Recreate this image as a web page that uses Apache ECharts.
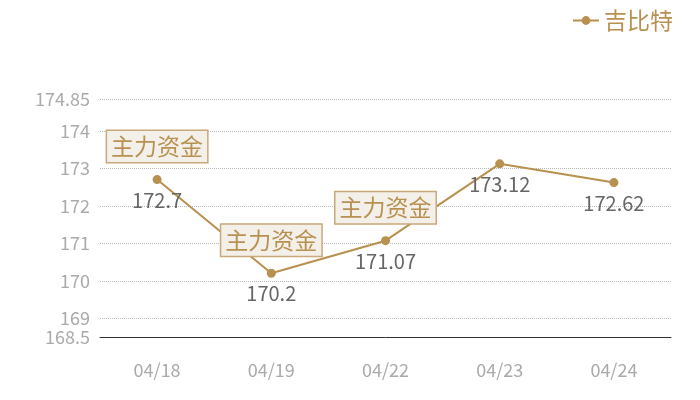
<!DOCTYPE html>
<html>
<head>
<meta charset="utf-8">
<script src="https://cdn.jsdelivr.net/npm/echarts@6/dist/echarts.min.js"></script>
<style>
    html, body { margin: 0; padding: 0; background: #fff; }
    #chart { width: 700px; height: 400px; }
</style>
</head>
<body>
<div id="chart"></div>
<script>
const categories = ['04/18', '04/19', '04/22', '04/23', '04/24'];
const prices = [172.7, 170.2, 171.07, 173.12, 172.62];
const flagIndexes = [0, 1, 2];
const flagText = '主力资金';
const yMin = 168.5;
const yMax = 174.85;

const gold = '#b8904f';
const font = '"Noto Sans CJK SC", "Noto Sans", sans-serif';

const chart = echarts.init(document.getElementById('chart'));
chart.setOption({
    textStyle: { fontFamily: font },
    legend: {
        right: 22,
        top: 4,
        itemWidth: 26,
        itemHeight: 11,
        itemGap: 6,
        textStyle: { color: gold, fontSize: 23, fontFamily: font },
        data: ['吉比特']
    },
    grid: { left: 100, right: 29, top: 99, bottom: 63 },
    xAxis: {
        type: 'category',
        data: categories,
        axisLine: { lineStyle: { color: '#333', width: 1 } },
        axisTick: { show: false },
        axisLabel: { color: '#aaa', fontSize: 18, margin: 24 }
    },
    yAxis: {
        type: 'value',
        min: yMin,
        max: yMax,
        axisLine: { show: false },
        axisTick: { show: false },
        axisLabel: { color: '#aaa', fontSize: 18, margin: 10 },
        splitLine: { lineStyle: { type: 'dotted', color: '#bbb' } }
    },
    series: [{
        name: '吉比特',
        type: 'line',
        data: prices,
        symbol: 'circle',
        symbolSize: 9,
        itemStyle: { color: gold },
        lineStyle: { color: gold, width: 2 },
        label: {
            show: true,
            position: 'bottom',
            distance: 6,
            color: '#666',
            fontSize: 20
        },
        markPoint: {
            symbol: 'circle',
            symbolSize: 0,
            data: flagIndexes.map(i => ({ coord: [i, prices[i]], value: flagText })),
            label: {
                show: true,
                formatter: flagText,
                offset: [0, -33],
                color: gold,
                fontSize: 23,
                backgroundColor: '#f3efe9',
                borderColor: '#c9a87a',
                borderWidth: 1.5,
                padding: [4, 4]
            }
        }
    }]
});
</script>
</body>
</html>
